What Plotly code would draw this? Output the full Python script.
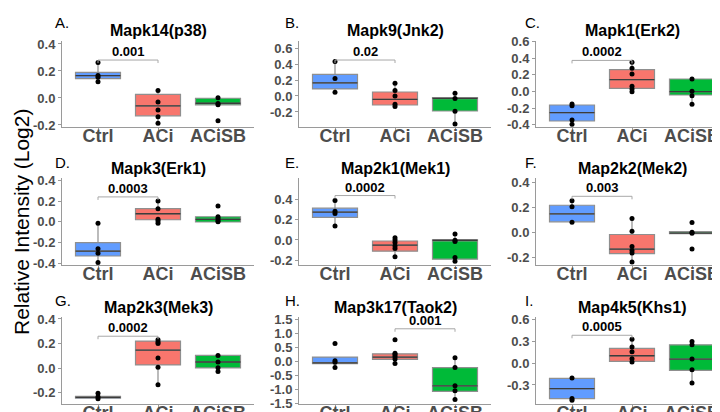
import plotly.graph_objects as go
from plotly.subplots import make_subplots

categories = ["Ctrl", "ACi", "ACiSB"]
group_colors = ["#619CFF", "#F8766D", "#00BA38"]

panel_titles = ["Mapk14(p38)", "Mapk9(Jnk2)", "Mapk1(Erk2)",
                "Mapk3(Erk1)", "Map2k1(Mek1)", "Map2k2(Mek2)",
                "Map2k3(Mek3)", "Map3k17(Taok2)", "Map4k5(Khs1)"]
panel_letters = ["A.", "B.", "C.", "D.", "E.", "F.", "G.", "H.", "I."]

# box statistics per panel: [Ctrl, ACi, ACiSB]
q1_vals = [[0.144, -0.132, -0.051], [0.088, -0.113, -0.188], [-0.356, 0.036, -0.044],
           [-0.332, 0.019, -0.003], [0.223, -0.111, -0.19], [0.083, -0.173, -0.013],
           [-0.243, 0.027, 0.003], [-0.081, 0.07, -1.07], [-0.486, 0.023, -0.1]]
median_vals = [[0.166, -0.059, -0.039], [0.163, -0.042, -0.03], [-0.256, 0.14, -0.004],
               [-0.284, 0.077, 0.023], [0.275, -0.052, -0.003], [0.147, -0.136, -0.008],
               [-0.237, 0.147, 0.051], [-0.058, 0.151, -0.872], [-0.35, 0.1, 0.055]]
q3_vals = [[0.19, 0.027, -0.002], [0.27, 0.05, -0.02], [-0.164, 0.26, 0.148],
           [-0.203, 0.126, 0.048], [0.315, -0.01, 0.0], [0.216, -0.019, 0.005],
           [-0.227, 0.221, 0.104], [0.151, 0.267, -0.221], [-0.209, 0.2, 0.25]]
lower_vals = [[0.12, -0.188, -0.05], [0.046, -0.133, -0.35], [-0.396, -0.004, -0.156],
              [-0.394, -0.016, -0.003], [0.138, -0.167, -0.21], [0.08, -0.24, -0.013],
              [-0.248, -0.133, -0.027], [-0.22, -0.08, -1.36], [-0.509, 0.014, -0.273]]
upper_vals = [[0.263, 0.056, 0.002], [0.43, 0.158, 0.033], [-0.152, 0.348, 0.148],
              [-0.016, 0.2, 0.048], [0.39, 0.023, 0.059], [0.253, 0.109, 0.005],
              [-0.227, 0.232, 0.104], [0.151, 0.3, 0.128], [-0.205, 0.327, 0.295]]

# individual sample points per panel
points_ctrl = [[0.263, 0.166, 0.154, 0.12], [0.43, 0.22, 0.046], [-0.152, -0.172, -0.344, -0.396],
               [-0.016, -0.261, -0.306, -0.394], [0.39, 0.285, 0.262, 0.138], [0.253, 0.205, 0.08],
               [-0.203, -0.232, -0.248], [0.64, 0.023, -0.035, -0.22], [-0.205, -0.486, -0.509]]
points_aci = [[0.056, -0.029, -0.09, -0.139, -0.188], [0.158, 0.07, 0.0, -0.104, -0.133],
              [0.348, 0.276, 0.208, 0.06, 0.028, -0.004], [0.2, 0.126, 0.023, 0.006, -0.016],
              [0.023, 0.0, -0.026, -0.059, -0.085, -0.167], [0.109, 0.008, -0.115, -0.147, -0.168, -0.24],
              [0.232, 0.213, 0.2, 0.083, 0.008, -0.133], [0.767, 0.29, 0.244, 0.174, 0.081, -0.08],
              [0.327, 0.218, 0.155, 0.059, 0.014]]
points_acisb = [[0.002, -0.041, -0.05, -0.168], [0.033, -0.03, -0.19, -0.35], [0.148, 0.0, -0.052, -0.156],
                [0.152, 0.048, 0.032, 0.01, 0.0], [0.059, -0.003, -0.016, -0.174, -0.21],
                [0.077, 0.0, -0.008, -0.136], [0.104, 0.051, 0.005, -0.027],
                [0.128, -0.221, -0.872, -1.05, -1.36], [0.295, 0.25, 0.055, -0.091, -0.273]]

# y axis ranges and ticks
y_ranges = [[-0.215, 0.422], [-0.388, 0.688], [-0.428, 0.604],
            [-0.419, 0.423], [-0.248, 0.614], [-0.264, 0.435],
            [-0.29, 0.416], [-1.52, 1.58], [-0.56, 0.63]]
y_tickvals = [[-0.2, 0.0, 0.2, 0.4], [-0.2, 0.0, 0.2, 0.4, 0.6], [-0.4, -0.2, 0.0, 0.2, 0.4, 0.6],
              [-0.4, -0.2, 0.0, 0.2, 0.4], [-0.2, 0.0, 0.2, 0.4], [-0.2, 0.0, 0.2, 0.4],
              [-0.2, 0.0, 0.2, 0.4], [-1.5, -1.0, -0.5, 0.0, 0.5, 1.0, 1.5], [-0.3, 0.0, 0.3, 0.6]]

# significance brackets
bracket_left = ["Ctrl", "Ctrl", "Ctrl", "Ctrl", "Ctrl", "Ctrl", "Ctrl", "ACi", "Ctrl"]
bracket_right = ["ACi", "ACi", "ACi", "ACi", "ACi", "ACi", "ACi", "ACiSB", "ACi"]
bracket_y = [0.281, 0.45, 0.371, 0.24, 0.44, 0.288, 0.26, 1.16, 0.38]
p_labels = ["0.001", "0.02", "0.0002", "0.0003", "0.0002", "0.003", "0.0002", "0.001", "0.0005"]

W, H = 720, 412
col_left = [54, 291, 528]
col_width = 192
row_top = [33, 170, 309]
row_bottom = [119, 257, 396]

FONT = "Liberation Sans, Arial, sans-serif"
AXIS_COLOR = "#9a9a9a"

fig = make_subplots(rows=3, cols=3)

for k in range(9):
    r, c = divmod(k, 3)
    idx = k + 1
    xa = "x" if idx == 1 else f"x{idx}"
    ya = "y" if idx == 1 else f"y{idx}"
    groups_pts = [points_ctrl[k], points_aci[k], points_acisb[k]]
    for g, cat in enumerate(categories):
        fig.add_trace(go.Box(
            x=[cat], q1=[q1_vals[k][g]], median=[median_vals[k][g]], q3=[q3_vals[k][g]],
            lowerfence=[lower_vals[k][g]], upperfence=[upper_vals[k][g]],
            width=0.75, fillcolor=group_colors[g], whiskerwidth=0,
            line=dict(color="#8f8f8f", width=1.2), boxpoints=False,
            hoverinfo="skip", showlegend=False, xaxis=xa, yaxis=ya))
        m = median_vals[k][g]
        fig.add_trace(go.Box(
            x=[cat], q1=[m], median=[m], q3=[m], lowerfence=[m], upperfence=[m],
            width=0.75, fillcolor="rgba(0,0,0,0)", whiskerwidth=0,
            line=dict(color="#3c3c3c", width=1.3), boxpoints=False,
            hoverinfo="skip", showlegend=False, xaxis=xa, yaxis=ya))
        fig.add_trace(go.Scatter(
            x=[cat] * len(groups_pts[g]), y=groups_pts[g], mode="markers",
            marker=dict(color="black", size=5), hoverinfo="skip",
            showlegend=False, xaxis=xa, yaxis=ya))

    # bracket
    y0, y1 = y_ranges[k]
    px_per_unit = (row_bottom[r] - row_top[r]) / (y1 - y0)
    drop = 3 / px_per_unit
    by = bracket_y[k]
    fig.add_trace(go.Scatter(
        x=[bracket_left[k], bracket_left[k], bracket_right[k], bracket_right[k]],
        y=[by - drop, by, by, by - drop], mode="lines",
        line=dict(color="#a8a8a8", width=1), hoverinfo="skip",
        showlegend=False, xaxis=xa, yaxis=ya))
    mid = (categories.index(bracket_left[k]) + categories.index(bracket_right[k])) / 2
    fig.add_annotation(x=mid, y=by, xref=xa, yref=ya, text=f"<b>{p_labels[k]}</b>",
                       showarrow=False, yanchor="bottom", yshift=-1,
                       font=dict(family=FONT, size=13, color="black"))

    # axes
    left = col_left[c]
    xd = [left / W, (left + col_width) / W]
    yd = [1 - row_bottom[r] / H, 1 - row_top[r] / H]
    xkey = "xaxis" if idx == 1 else f"xaxis{idx}"
    ykey = "yaxis" if idx == 1 else f"yaxis{idx}"
    fig.layout[xkey].update(
        domain=xd, type="category", categoryorder="array", categoryarray=categories,
        range=[-0.6, 2.6], showgrid=False, zeroline=False, showline=True,
        linecolor=AXIS_COLOR, linewidth=1, ticks="outside", ticklen=3,
        tickcolor=AXIS_COLOR, anchor=ya, automargin=False, ticklabelstandoff=-11,
        tickfont=dict(family=FONT, size=18, color="#4d4d4d", weight="bold"))
    fig.layout[ykey].update(
        domain=yd, range=y_ranges[k], tickvals=y_tickvals[k],
        ticktext=[f"{v:.1f}".replace("-0.0", "0.0") for v in y_tickvals[k]],
        showgrid=False, zeroline=False, showline=True, linecolor=AXIS_COLOR,
        linewidth=1, ticks="outside", ticklen=3, tickcolor=AXIS_COLOR, anchor=xa,
        automargin=False,
        tickfont=dict(family=FONT, size=13, color="#4d4d4d", weight="bold"))

    # title and letter
    fig.add_annotation(x=(left + col_width / 2) / W, y=1 - (row_top[r] - 10) / H,
                       xref="paper", yref="paper", text=f"<b>{panel_titles[k]}</b>",
                       showarrow=False, xanchor="center", yanchor="middle",
                       font=dict(family=FONT, size=16, color="black"))
    letter_x = [45, 275, 515][c]
    letter_y = [15, 154, 292][r]
    fig.add_annotation(x=letter_x / W, y=1 - letter_y / H, xref="paper", yref="paper",
                       text=panel_letters[k], showarrow=False, xanchor="left",
                       yanchor="middle", font=dict(family=FONT, size=15, color="black"))

fig.add_annotation(x=13 / W, y=1 - 214 / H, xref="paper", yref="paper",
                   text="Relative Intensity (Log2)", showarrow=False, textangle=-90,
                   xanchor="center", yanchor="middle",
                   font=dict(family=FONT, size=21, color="black"))

fig.update_layout(width=W, height=H, margin=dict(l=0, r=0, t=0, b=0),
                  paper_bgcolor="white", plot_bgcolor="white", showlegend=False,
                  boxmode="overlay")

fig.write_html("out.html")
